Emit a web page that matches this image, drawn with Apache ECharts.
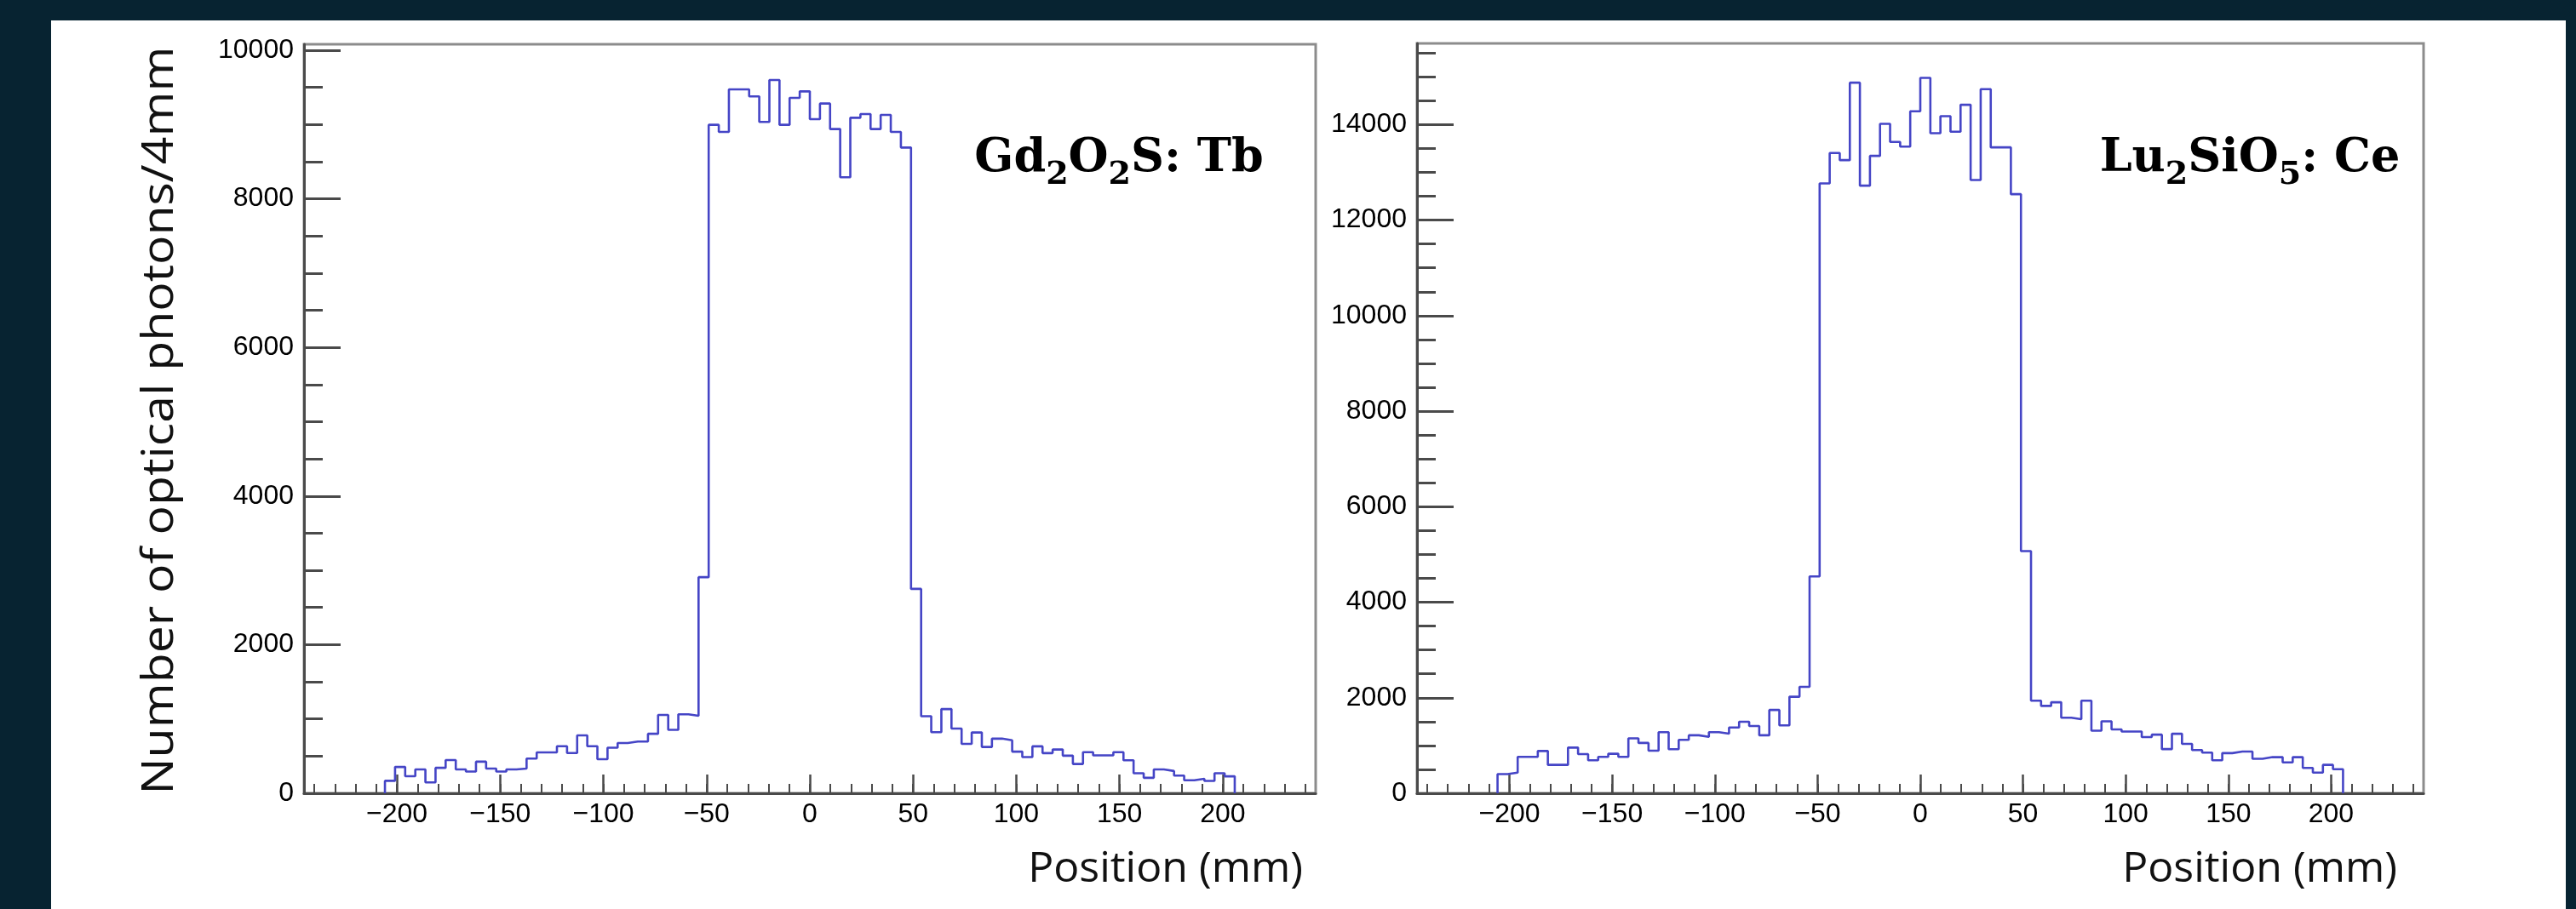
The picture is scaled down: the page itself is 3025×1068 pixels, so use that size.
<!DOCTYPE html>
<html>

<head>
    <meta charset="utf-8">
    <title>Optical photon profiles</title>
    <script src="https://cdn.jsdelivr.net/npm/echarts@6.0.0/dist/echarts.min.js"></script>
    <style>
        html, body {
            margin: 0;
            padding: 0;
            background: #072331;
        }

        .panel {
            position: absolute;
            left: 60px;
            top: 24px;
            width: 2953px;
            height: 1044px;
            background: #ffffff;
        }

        .chart {
            position: absolute;
            left: 0;
            top: 0;
            width: 3025px;
            height: 1068px;
        }
    </style>
</head>

<body>
    <div class="panel"></div>
    <div id="main" class="chart"></div>

    <script type="text/javascript">
        // histogram binning (100 bins over -245..245 mm), first non-empty bin
        var binStart = -245;
        var binWidth = 4.9;
        var firstBin = 8;

        // Gd2O2S:Tb counts, bins 8..91
        var gdCounts = [
            167, 354, 229, 321, 146, 342, 446, 321, 292, 425,
            333, 292, 321, 333, 467, 550, 550, 633, 542, 779,
            633, 458, 612, 675, 696, 696, 800, 1054, 854, 1062,
            1042, 2908,
            8996, 8900, 9473, 9473, 9378, 9034, 9599, 8996, 9359, 9446,
            9072, 9282, 8939, 8290, 9091, 9141, 8939, 9130, 8900, 8690,
            2750,
            1037, 822, 1133, 871, 664, 818, 623, 735, 714, 560,
            486, 631, 540, 589, 506, 394, 552, 510, 510, 552,
            444, 270, 208, 320, 299, 237, 174, 195, 166, 270,
            228
        ];

        // Lu2SiO5:Ce counts, bins 8..91
        var luCounts = [
            400, 433, 762, 762, 885, 594, 594, 956, 820, 691,
            762, 827, 762, 1150, 1053, 891, 1279, 923, 1117, 1214,
            1182, 1279, 1246, 1376, 1498, 1408, 1214, 1744, 1421, 2021,
            2228, 4540,
            12769, 13405, 13256, 14878, 12721, 13345, 14016, 13636, 13538, 14278,
            14979, 13820, 14177, 13850, 14415, 12840, 14742, 13523, 13523, 12543,
            5069,
            1937, 1828, 1905, 1582, 1550, 1937, 1311, 1505, 1337, 1292,
            1292, 1175, 1227, 924, 1246, 1033, 904, 852, 691, 840,
            872, 872, 723, 756, 756, 646, 756, 530, 433, 594,
            504
        ];

        var xTicks = [-200, -150, -100, -50, 0, 50, 100, 150, 200];
        var xMinorTicks = [];
        for (var t = -240; t <= 240; t += 10) xMinorTicks.push(t);

        var gdYTicks = [0, 2000, 4000, 6000, 8000, 10000];
        var luYTicks = [0, 2000, 4000, 6000, 8000, 10000, 12000, 14000];
        var gdYMax = 10080;
        var luYMax = 15700;

        var xTitle = 'Position (mm)';
        var yTitle = 'Number of optical photons/4mm';

        function minorOf(max) {
            var out = [];
            for (var v = 0; v <= max; v += 500) out.push(v);
            return out;
        }

        // step outline: left edge of each bin, closed down to zero at both ends
        function stepPoints(counts) {
            var edge = function (i) { return +(binStart + i * binWidth).toFixed(2); };
            var pts = [[edge(firstBin), 0]];
            for (var i = 0; i < counts.length; i++) {
                pts.push([edge(firstBin + i), counts[i]]);
            }
            var last = firstBin + counts.length;
            pts.push([edge(last), counts[counts.length - 1]]);
            pts.push([edge(last), 0]);
            return pts;
        }

        var axisColor = '#4a4a4a';
        var labelFont = {
            fontFamily: 'Liberation Sans',
            fontSize: 32,
            color: '#000'
        };

        function xMain(grid) {
            return {
                type: 'value', gridIndex: grid, min: -245, max: 245,
                axisLine: { show: true, onZero: false, lineStyle: { color: axisColor, width: 3 } },
                axisTick: { show: true, inside: true, length: 22, customValues: xTicks, lineStyle: { color: axisColor, width: 2.5 } },
                axisLabel: Object.assign({
                    show: true, margin: 9, customValues: xTicks,
                    formatter: function (v) { return v < 0 ? '\u2212' + (-v) : String(v); }
                }, labelFont),
                splitLine: { show: false }
            };
        }

        function xMinor(grid) {
            return {
                type: 'value', gridIndex: grid, min: -245, max: 245,
                axisLine: { show: false, onZero: false },
                axisTick: { show: true, inside: true, length: 11, customValues: xMinorTicks, lineStyle: { color: axisColor, width: 2 } },
                axisLabel: { show: false },
                splitLine: { show: false }
            };
        }

        function yMain(grid, max, ticks) {
            return {
                type: 'value', gridIndex: grid, min: 0, max: max,
                axisLine: { show: true, onZero: false, lineStyle: { color: axisColor, width: 3 } },
                axisTick: { show: true, inside: true, length: 43, customValues: ticks, lineStyle: { color: axisColor, width: 3 } },
                axisLabel: Object.assign({
                    show: true, margin: 12, customValues: ticks,
                    formatter: function (v) { return String(v); }
                }, labelFont),
                splitLine: { show: false }
            };
        }

        function yMinor(grid, max) {
            return {
                type: 'value', gridIndex: grid, min: 0, max: max,
                axisLine: { show: false, onZero: false },
                axisTick: { show: true, inside: true, length: 22, customValues: minorOf(max), lineStyle: { color: axisColor, width: 3 } },
                axisLabel: { show: false },
                splitLine: { show: false }
            };
        }

        var frame = { show: true, borderColor: '#8c8c8c', borderWidth: 3, backgroundColor: 'transparent', containLabel: false, outerBoundsMode: 'none' };
        var plain = { show: false, containLabel: false, outerBoundsMode: 'none' };

        var subStyle = function (size) {
            return {
                main: { fontFamily: 'DejaVu Serif', fontWeight: 'bold', fontSize: size, lineHeight: 76, fill: '#000' },
                sub: { fontFamily: 'DejaVu Serif', fontWeight: 'bold', fontSize: 38, lineHeight: 38, verticalAlign: 'bottom', fill: '#000' }
            };
        };

        var myChart = echarts.init(document.getElementById('main'));

        var option = {
            animation: false,
            backgroundColor: 'transparent',
            grid: [
                Object.assign({ left: 357, top: 52, width: 1188, height: 880 }, frame),
                Object.assign({ left: 357, top: 52, width: 1188, height: 880 }, plain),
                Object.assign({ left: 1664, top: 51, width: 1182, height: 881 }, frame),
                Object.assign({ left: 1664, top: 51, width: 1182, height: 881 }, plain)
            ],
            xAxis: [xMain(0), xMinor(1), xMain(2), xMinor(3)],
            yAxis: [
                yMain(0, gdYMax, gdYTicks), yMinor(1, gdYMax),
                yMain(2, luYMax, luYTicks), yMinor(3, luYMax)
            ],
            series: [{
                name: 'Gd2O2S:Tb',
                type: 'line',
                xAxisIndex: 0,
                yAxisIndex: 0,
                step: 'end',
                symbol: 'none',
                silent: true,
                z: 5,
                lineStyle: { color: '#4545c6', width: 2.6 },
                data: stepPoints(gdCounts)
            }, {
                name: 'Lu2SiO5:Ce',
                type: 'line',
                xAxisIndex: 2,
                yAxisIndex: 2,
                step: 'end',
                symbol: 'none',
                silent: true,
                z: 5,
                lineStyle: { color: '#4545c6', width: 2.6 },
                data: stepPoints(luCounts)
            }],
            graphic: [{
                type: 'text',
                x: 188,
                y: 494,
                rotation: Math.PI / 2,
                scaleX: 1.1,
                style: {
                    text: yTitle,
                    fontFamily: 'Open Sans',
                    fontSize: 52,
                    fill: '#111',
                    align: 'center',
                    verticalAlign: 'middle'
                }
            }, {
                type: 'text',
                x: 1530,
                y: 1022,
                style: {
                    text: xTitle, fontFamily: 'Open Sans', fontSize: 50, fill: '#111',
                    align: 'right', verticalAlign: 'middle'
                }
            }, {
                type: 'text',
                x: 2815,
                y: 1022,
                style: {
                    text: xTitle, fontFamily: 'Open Sans', fontSize: 50, fill: '#111',
                    align: 'right', verticalAlign: 'middle'
                }
            }, {
                type: 'text',
                x: 1314,
                y: 187,
                style: {
                    text: '{main|Gd}{sub|2}{main|O}{sub|2}{main|S: Tb}',
                    align: 'center',
                    verticalAlign: 'middle',
                    rich: subStyle(54)
                }
            }, {
                type: 'text',
                x: 2642,
                y: 187,
                style: {
                    text: '{main|Lu}{sub|2}{main|SiO}{sub|5}{main|: Ce}',
                    align: 'center',
                    verticalAlign: 'middle',
                    rich: subStyle(54)
                }
            }]
        };

        myChart.setOption(option);
    </script>
</body>

</html>
